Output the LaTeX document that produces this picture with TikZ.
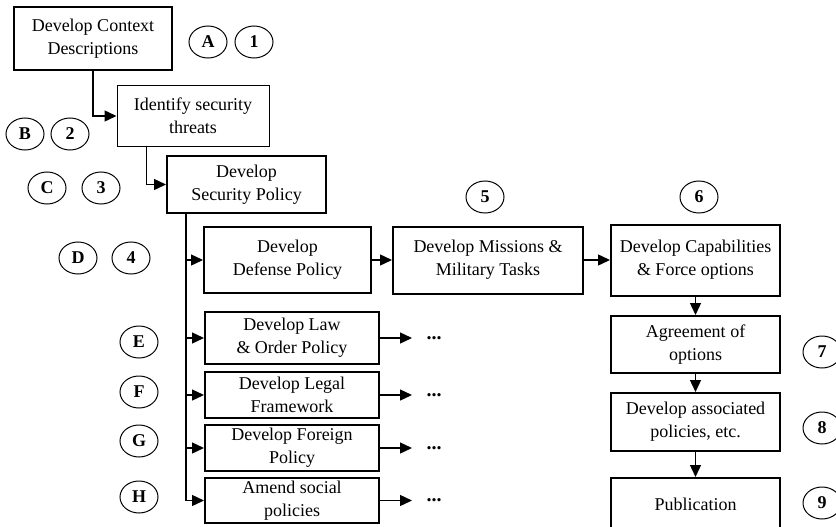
\documentclass[tikz,border=0pt]{standalone}
\usepackage{fontspec}
\setmainfont{Liberation Serif}
\usetikzlibrary{arrows.meta,shapes.geometric,calc}

\begin{document}
\begin{tikzpicture}[x=1pt,y=-1pt,line width=1.4pt,>={Triangle[length=12pt,width=11pt]}]
\tikzset{el/.style={draw, rectangle, line width=2pt, align=center, inner sep=0pt, font=\fontsize{18}{23}\selectfont}}
\tikzset{tag/.style={draw, ellipse, line width=1pt, minimum width=38pt, minimum height=32pt, inner sep=0pt, font=\fontsize{18}{21}\selectfont\bfseries}}
\tikzset{more/.style={inner sep=0pt, anchor=west, font=\fontsize{20}{22}\selectfont\bfseries}}

\useasboundingbox (0,0) rectangle (836,527);

% Top staircase
\node[el, minimum width=158pt, minimum height=63pt] (ctx) at (93,39) {Develop Context\\Descriptions};
\node[el, line width=1pt, minimum width=152pt, minimum height=60pt] (threat) at (193,116) {Identify security\\threats};
\node[el, minimum width=159pt, minimum height=57pt] (secpol) at (246.5,184.5) {Develop\\Security Policy};

% Defense chain
\node[el, minimum width=167pt, minimum height=66pt] (defpol) at (287.5,260) {Develop\\Defense Policy};
\node[el, minimum width=190pt, minimum height=67pt] (mission) at (488,260) {Develop Missions \&\\Military Tasks};
\node[el, minimum width=169pt, minimum height=71pt] (capab) at (695.5,260) {Develop Capabilities\\\& Force options};

% Right column
\node[el, minimum width=169pt, minimum height=57pt] (agree) at (695.5,344.5) {Agreement of\\options};
\node[el, minimum width=169pt, minimum height=58pt] (assoc) at (695.5,422) {Develop associated\\policies, etc.};
\node[el, minimum width=169pt, minimum height=52pt] (publ) at (695.5,504) {Publication};

% Other policies
\node[el, minimum width=174pt, minimum height=52pt] (law) at (292,338) {Develop Law\\\& Order Policy};
\node[el, minimum width=174pt, minimum height=46pt] (legal) at (292,395) {Develop Legal\\Framework};
\node[el, minimum width=174pt, minimum height=46pt] (foreign) at (292,448) {Develop Foreign\\Policy};
\node[el, minimum width=174pt, minimum height=45pt] (amend) at (292,500.5) {Amend social\\policies};

\node[more] (lawmore) at (426,338) {...};
\node[more] (legalmore) at (426,395) {...};
\node[more] (foreignmore) at (426,448) {...};
\node[more] (amendmore) at (426,500.5) {...};

% Step tags
\node[tag] (tA) at (208,42) {A};
\node[tag] (t1) at (254,42) {1};
\node[tag] (tB) at (25,134) {B};
\node[tag] (t2) at (70,134) {2};
\node[tag] (tC) at (47,188) {C};
\node[tag] (t3) at (101,188) {3};
\node[tag] (tD) at (78,258) {D};
\node[tag] (t4) at (131,258) {4};
\node[tag] (tE) at (139,342) {E};
\node[tag] (tF) at (139,392) {F};
\node[tag] (tG) at (139,441) {G};
\node[tag] (tH) at (139,497) {H};
\node[tag] (t5) at (485,197) {5};
\node[tag] (t6) at (699,197) {6};
\node[tag] (t7) at (822,352) {7};
\node[tag] (t8) at (822,428) {8};
\node[tag] (t9) at (822,503) {9};

% Connections
\draw[->] (ctx.south) |- (threat.west);
\draw[->] ($(threat.south west)+(30,0)$) |- (secpol.west);

\coordinate (trunk) at ($(secpol.south west)+(20,0)$);
\draw[->] (trunk) |- (defpol.west);
\draw[->] (trunk) |- (law.west);
\draw[->] (trunk) |- (legal.west);
\draw[->] (trunk) |- (foreign.west);
\draw[->] (trunk) |- (amend.west);

\draw[->] (defpol) -- (mission);
\draw[->] (mission) -- (capab);
\draw[->] (capab) -- (agree);
\draw[->] (agree) -- (assoc);
\draw[->] (assoc) -- (publ);

\draw[->, shorten >=14pt] (law.east) -- (lawmore.west);
\draw[->, shorten >=14pt] (legal.east) -- (legalmore.west);
\draw[->, shorten >=14pt] (foreign.east) -- (foreignmore.west);
\draw[->, shorten >=14pt] (amend.east) -- (amendmore.west);

\end{tikzpicture}
\end{document}
